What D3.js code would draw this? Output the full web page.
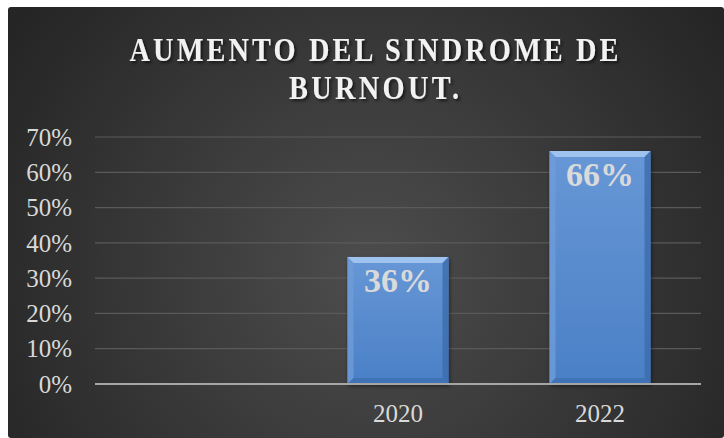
<!DOCTYPE html>
<html>
<head>
<meta charset="utf-8">
<script src="https://cdn.jsdelivr.net/npm/d3@7"></script>
<style>
  body { margin: 0; background: #fff; }
  svg { display: block; }
</style>
</head>
<body>
<div id="chart"></div>
<script>
// data
const categories = ["", "2020", "2022"];
const values = [null, 0.36, 0.66];
const yTicks = [0, 0.1, 0.2, 0.3, 0.4, 0.5, 0.6, 0.7];
const titleLines = ["AUMENTO DEL SINDROME DE", "BURNOUT."];

const width = 724, height = 438;
const fontFam = "'Liberation Serif', 'Times New Roman', serif";

let svg = d3.select('#chart')
    .append('svg')
    .attr('width', width)
    .attr('height', height);

let defs = svg.append('defs');

let bg = defs.append('radialGradient')
    .attr('id', 'bgGrad')
    .attr('gradientUnits', 'userSpaceOnUse')
    .attr('cx', 370).attr('cy', 270).attr('r', 430);
bg.append('stop').attr('offset', '0%').attr('stop-color', '#4d4d4d');
bg.append('stop').attr('offset', '100%').attr('stop-color', '#252525');

let barGrad = defs.append('linearGradient')
    .attr('id', 'barGrad')
    .attr('x1', 0).attr('y1', 0).attr('x2', 0).attr('y2', 1);
barGrad.append('stop').attr('offset', '0%').attr('stop-color', '#6797d6');
barGrad.append('stop').attr('offset', '100%').attr('stop-color', '#4a80c6');

let shadow = defs.append('filter').attr('id', 'txtShadow')
    .attr('x', '-10%').attr('y', '-30%').attr('width', '130%').attr('height', '180%');
shadow.append('feDropShadow')
    .attr('dx', 2).attr('dy', 2).attr('stdDeviation', 1.5)
    .attr('flood-color', '#000').attr('flood-opacity', 0.6);

let barShadow = defs.append('filter').attr('id', 'barShadow')
    .attr('x', '-20%').attr('y', '-20%').attr('width', '140%').attr('height', '140%');
barShadow.append('feDropShadow')
    .attr('dx', 1).attr('dy', 2).attr('stdDeviation', 2)
    .attr('flood-color', '#000').attr('flood-opacity', 0.5);

// chart background
svg.append('rect')
    .attr('x', 8).attr('y', 7)
    .attr('width', width - 8).attr('height', height - 7)
    .attr('rx', 3)
    .style('fill', 'url(#bgGrad)');

// scales
let x = d3.scaleBand()
    .domain(categories)
    .range([95, 701])
    .paddingInner(0.5)
    .paddingOuter(0.25);

let y = d3.scaleLinear()
    .domain([0, 0.7])
    .range([384, 137]);

// gridlines
svg.append('g')
    .selectAll('line')
    .data(yTicks.filter(d => d > 0))
    .enter().append('line')
    .attr('x1', 95).attr('x2', 701)
    .attr('y1', d => y(d)).attr('y2', d => y(d))
    .style('stroke', '#5a5a5a')
    .style('stroke-width', 1.2);

// y axis
let yAxis = svg.append('g')
    .attr('transform', 'translate(95,0)')
    .call(d3.axisLeft(y).tickValues(yTicks).tickFormat(d3.format('.0%')).tickSize(0).tickPadding(23));
yAxis.select('.domain').remove();
yAxis.selectAll('text')
    .style('font-family', fontFam)
    .style('font-size', '25px')
    .style('fill', '#d9d9d9')
    .attr('dy', '0.33em');

// bars
let bars = svg.append('g')
    .selectAll('g')
    .data(categories.map((c, i) => ({cat: c, v: values[i]})).filter(d => d.v != null))
    .enter().append('g');

bars.append('rect')
    .attr('x', d => x(d.cat))
    .attr('y', d => y(d.v))
    .attr('width', x.bandwidth())
    .attr('height', d => y(0) - y(d.v))
    .style('fill', 'url(#barGrad)')
    .attr('filter', 'url(#barShadow)');

const b = 6;
// bevels: top, left, right, bottom
bars.append('polygon')
    .attr('points', d => {
        let x0 = x(d.cat), x1 = x0 + x.bandwidth(), y0 = y(d.v);
        return [[x0, y0], [x1, y0], [x1 - b, y0 + b], [x0 + b, y0 + b]].join(' ');
    })
    .style('fill', '#9fc3ef');
bars.append('polygon')
    .attr('points', d => {
        let x0 = x(d.cat), y0 = y(d.v), y1 = y(0);
        return [[x0, y0], [x0 + b, y0 + b], [x0 + b, y1 - b], [x0, y1]].join(' ');
    })
    .style('fill', '#6f9cd8').style('opacity', 0.8);
bars.append('polygon')
    .attr('points', d => {
        let x1 = x(d.cat) + x.bandwidth(), y0 = y(d.v), y1 = y(0);
        return [[x1, y0], [x1 - b, y0 + b], [x1 - b, y1 - b], [x1, y1]].join(' ');
    })
    .style('fill', '#3c6cab').style('opacity', 0.8);
bars.append('polygon')
    .attr('points', d => {
        let x0 = x(d.cat), x1 = x0 + x.bandwidth(), y1 = y(0);
        return [[x0, y1], [x0 + b, y1 - b], [x1 - b, y1 - b], [x1, y1]].join(' ');
    })
    .style('fill', '#3f71b3').style('opacity', 0.9);

// data labels
bars.append('text')
    .attr('x', d => x(d.cat) + x.bandwidth() / 2)
    .attr('y', d => y(d.v) + 35)
    .attr('text-anchor', 'middle')
    .style('font-family', fontFam)
    .style('font-weight', 'bold')
    .style('font-size', '34px')
    .style('fill', '#dadada')
    .text(d => d3.format('.0%')(d.v));

// x axis line
svg.append('line')
    .attr('x1', 95).attr('x2', 701)
    .attr('y1', y(0)).attr('y2', y(0))
    .style('stroke', '#a6a6a6')
    .style('stroke-width', 2);

// x labels
svg.append('g')
    .selectAll('text')
    .data(categories)
    .enter().append('text')
    .attr('x', d => x(d) + x.bandwidth() / 2)
    .attr('y', 422)
    .attr('text-anchor', 'middle')
    .style('font-family', fontFam)
    .style('font-size', '25px')
    .style('fill', '#d9d9d9')
    .text(d => d);

// title (slightly condensed glyphs, wide spacing)
const titleY = [61, 99];
const titleW = [489, 170];
const sx = 0.86;
svg.append('g')
    .attr('filter', 'url(#txtShadow)')
    .append('g')
    .attr('transform', 'translate(374,0) scale(' + sx + ',1)')
    .selectAll('text')
    .data(titleLines)
    .enter().append('text')
    .attr('x', 0)
    .attr('y', (d, i) => titleY[i])
    .attr('text-anchor', 'middle')
    .attr('textLength', (d, i) => titleW[i] / sx)
    .attr('lengthAdjust', 'spacing')
    .style('font-family', fontFam)
    .style('font-weight', 'bold')
    .style('font-size', '33px')
    .style('fill', '#f2f2f2')
    .text(d => d);
</script>
</body>
</html>
